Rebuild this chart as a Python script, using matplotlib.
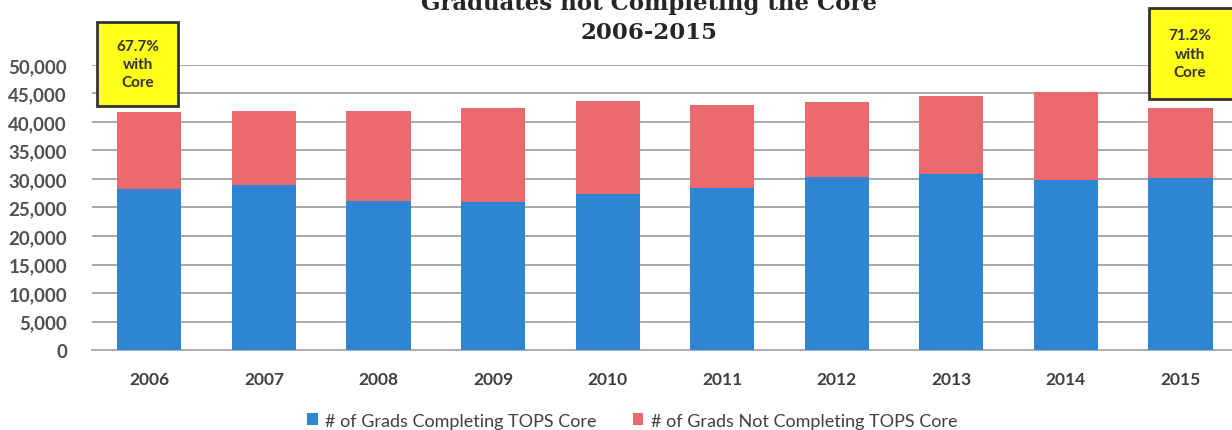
import numpy as np
import matplotlib.pyplot as plt
from matplotlib.patches import Rectangle

years = ['2006', '2007', '2008', '2009', '2010', '2011', '2012', '2013', '2014', '2015']
completing_core = [28300, 29000, 26200, 25900, 27400, 28500, 30300, 30900, 29800, 30200]
total_grads = [41700, 42000, 41900, 42400, 43600, 43000, 43500, 44600, 45300, 42400]
not_completing_core = [t - c for t, c in zip(total_grads, completing_core)]

series_names = ['# of Grads Completing TOPS Core', '# of Grads Not Completing TOPS Core']
box_texts = ['67.7%\nwith\nCore', '71.2%\nwith\nCore']

blue = '#2E86D3'
red = '#EA6A6E'
text_col = '#404040'

plt.rcParams['font.family'] = ['Lato', 'DejaVu Sans']

fig = plt.figure(figsize=(12.32, 4.31), dpi=100)
ax = fig.add_axes([0.0747, 0.1856, 0.930, 0.6613])

x = np.arange(len(years))
ax.bar(x, completing_core, width=0.56, color=blue, zorder=3, label=series_names[0])
ax.bar(x, not_completing_core, width=0.56, bottom=completing_core, color=red, zorder=3,
       label=series_names[1])

ax.set_xlim(-0.5, 9.5)
ax.set_ylim(0, 50000)
ax.set_yticks(np.arange(0, 50001, 5000))
ax.set_yticklabels([f'{v:,}' for v in range(0, 50001, 5000)])
ax.set_xticks(x)
ax.set_xticklabels(years)
ax.tick_params(axis='y', length=0, pad=18, labelsize=13.5, labelcolor='#505050')
ax.tick_params(axis='x', length=0, pad=15, labelsize=12.5, labelcolor=text_col)
for lbl in ax.get_xticklabels() + ax.get_yticklabels():
    lbl.set_fontweight('bold')

ax.yaxis.grid(True, color='#A8A8A8', linewidth=1.4, zorder=0)
ax.set_axisbelow(True)
for s in ['top', 'right', 'left']:
    ax.spines[s].set_visible(False)
ax.spines['bottom'].set_color('#B0B0B0')
ax.spines['bottom'].set_linewidth(1.4)

# yellow callout boxes (data coords)
boxes = [(-0.456, 42800, 0.706, 14750, -0.10),
         (8.723, 44000, 0.75, 15950, 9.08)]
for (bx, by, bw, bh, tx), txt in zip(boxes, box_texts):
    ax.add_patch(Rectangle((bx, by), bw, bh, facecolor='#FFFF1A', edgecolor='#333333',
                           linewidth=2, clip_on=False, zorder=5))
    ax.text(tx, by + bh / 2, txt, ha='center', va='center', fontsize=11,
            fontweight='bold', color='#333333', linespacing=1.4, zorder=6, clip_on=False)

# title runs off the top edge, as in the scanned original
fig.text(0.527, 0.99, 'Graduates not Completing the Core', ha='center', va='center',
         fontsize=16.5, fontweight='bold', family='DejaVu Serif', color='#262626')
fig.text(0.527, 0.923, '2006-2015', ha='center', va='center',
         fontsize=16.5, fontweight='bold', family='DejaVu Serif', color='#262626')

fig.legend(loc='center', bbox_to_anchor=(0.513, 0.022), ncol=2, frameon=False,
           fontsize=13, handlelength=0.6, handleheight=0.6, handletextpad=0.4,
           columnspacing=2.0, labelcolor=text_col)

fig.savefig('out.png', dpi=100)
